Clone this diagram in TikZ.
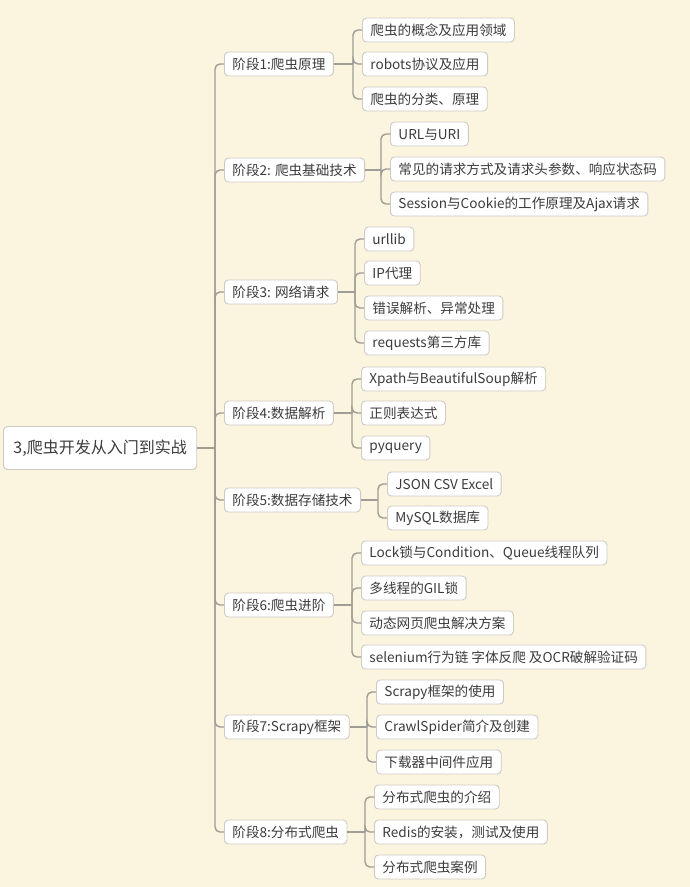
\documentclass[tikz,border=0pt]{standalone}
\usepackage{fontspec}
\setmainfont{Noto Sans CJK SC}
\usepackage{xcolor}
\usepackage{tikz}
\usetikzlibrary{positioning,calc}

\definecolor{paper}{RGB}{251,244,222}
\definecolor{linegray}{RGB}{160,156,150}
\definecolor{boxgray}{RGB}{205,203,198}
\definecolor{inkgray}{RGB}{60,60,60}

\begin{document}
\begin{tikzpicture}[
    x=1pt, y=-1pt,
    topic/.style={draw=boxgray, fill=white, rounded corners=4pt, line width=0.9pt, minimum height=24pt, inner xsep=8pt, inner ysep=0pt, anchor=west, text=inkgray, font=\fontsize{13.6}{15}\selectfont},
    central/.style={topic, minimum height=43pt, inner xsep=10pt, font=\fontsize{16}{19}\selectfont},
    link/.style={draw=linegray, line width=1.4pt, rounded corners=5pt}
]
\fill[paper] (0,0) rectangle (690,887);
\useasboundingbox (0,0) rectangle (690,887);

% --- root and stages ---
\node[central] (root) at (3,448) {3,爬虫开发从入门到实战};
\node[topic] (s1) at (224,64)  {阶段1:爬虫原理};
\node[topic] (s2) at (224,170) {阶段2: 爬虫基础技术};
\node[topic] (s3) at (224,292) {阶段3: 网络请求};
\node[topic] (s4) at (224,413) {阶段4:数据解析};
\node[topic] (s5) at (224,500) {阶段5:数据存储技术};
\node[topic] (s6) at (224,605) {阶段6:爬虫进阶};
\node[topic] (s7) at (224,727) {阶段7:Scrapy框架};
\node[topic] (s8) at (224,832) {阶段8:分布式爬虫};

\coordinate (t0) at (215,448);
\draw[link] (root.east) -- (t0);
\foreach \s in {1,...,8}
  \draw[link] (s\s.west) -| (t0);

% --- stage 1 ---
\node[topic] (l1a) at (362,30) {爬虫的概念及应用领域};
\node[topic] (l1b) at (362,64) {robots协议及应用};
\node[topic] (l1c) at (362,99) {爬虫的分类、原理};
\coordinate (t1) at (353,64);

% --- stage 2 ---
\node[topic] (l2a) at (390,134) {URL与URI};
\node[topic] (l2b) at (390,169) {常见的请求方式及请求头参数、响应状态码};
\node[topic] (l2c) at (390,204) {Session与Cookie的工作原理及Ajax请求};
\coordinate (t2) at (381,170);

% --- stage 3 ---
\node[topic] (l3a) at (364,239) {urllib};
\node[topic] (l3b) at (364,273) {IP代理};
\node[topic] (l3c) at (364,308) {错误解析、异常处理};
\node[topic] (l3d) at (364,343) {requests第三方库};
\coordinate (t3) at (355,292);

% --- stage 4 ---
\node[topic] (l4a) at (361,379) {Xpath与BeautifulSoup解析};
\node[topic] (l4b) at (361,413) {正则表达式};
\node[topic] (l4c) at (361,448) {pyquery};
\coordinate (t4) at (352,413);

% --- stage 5 ---
\node[topic] (l5a) at (387,484) {JSON CSV Excel};
\node[topic] (l5b) at (387,518) {MySQL数据库};
\coordinate (t5) at (378,500);

% --- stage 6 ---
\node[topic] (l6a) at (361,553) {Lock锁与Condition、Queue线程队列};
\node[topic] (l6b) at (361,588) {多线程的GIL锁};
\node[topic] (l6c) at (361,623) {动态网页爬虫解决方案};
\node[topic] (l6d) at (361,657) {selenium行为链 字体反爬 及OCR破解验证码};
\coordinate (t6) at (352,605);

% --- stage 7 ---
\node[topic] (l7a) at (376,692) {Scrapy框架的使用};
\node[topic] (l7b) at (376,727) {CrawlSpider简介及创建};
\node[topic] (l7c) at (376,762) {下载器中间件应用};
\coordinate (t7) at (367,727);

% --- stage 8 ---
\node[topic] (l8a) at (374,797) {分布式爬虫的介绍};
\node[topic] (l8b) at (374,832) {Redis的安装，测试及使用};
\node[topic] (l8c) at (374,867) {分布式爬虫案例};
\coordinate (t8) at (365,832);

% --- branches ---
\foreach \s/\leaves in {1/{a,b,c}, 2/{a,b,c}, 3/{a,b,c,d}, 4/{a,b,c},
                        5/{a,b}, 6/{a,b,c,d}, 7/{a,b,c}, 8/{a,b,c}} {
  \draw[link] (s\s.east) -- (t\s);
  \foreach \l in \leaves
    \draw[link] (l\s\l.west) -| (t\s);
}

\end{tikzpicture}
\end{document}
